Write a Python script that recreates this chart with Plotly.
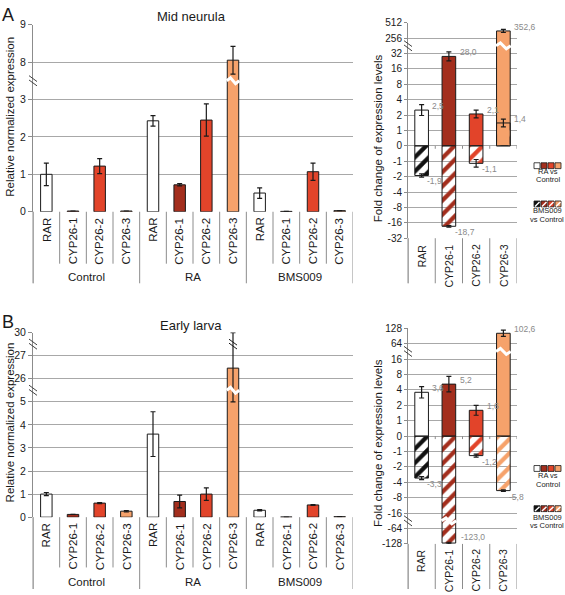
import math
import plotly.graph_objects as go

W, H = 565, 595

# ---------------- data ----------------
groups = ["Control", "RA", "BMS009"]
genes = ["RAR", "CYP26-1", "CYP26-2", "CYP26-3"]
gene_colors = ["#ffffff", "#a32e1d", "#e2442a", "#f6a26b"]
hatch_colors = ["#111111", "#a32e1d", "#e2442a", "#f6a26b"]

# Mid neurula: relative normalized expression
neurula_control = [1.00, 0.02, 1.22, 0.02]
neurula_ra = [2.43, 0.72, 2.45, 8.05]
neurula_bms009 = [0.50, 0.01, 1.07, 0.03]
neurula_control_err = [0.30, 0.0, 0.20, 0.0]
neurula_ra_err = [0.14, 0.03, 0.43, 0.37]
neurula_bms009_err = [0.14, 0.0, 0.23, 0.0]
neurula_yticks = [0, 1, 2, 3, 8, 9]

# Early larva: relative normalized expression
larva_control = [1.00, 0.12, 0.61, 0.26]
larva_ra = [3.60, 0.68, 1.00, 26.46]
larva_bms009 = [0.30, 0.005, 0.53, 0.02]
larva_control_err = [0.07, 0.0, 0.02, 0.03]
larva_ra_err_plus = [0.97, 0.28, 0.27, 3.54]
larva_ra_err_minus = [0.97, 0.28, 0.27, 21.46]
larva_bms009_err = [0.03, 0.0, 0.02, 0.0]
larva_yticks = [0, 1, 2, 3, 4, 5, 26, 27, 30]

# Fold change (errors in log2 units of the plotted scale)
neurula_ra_fold = [2.5, 28.0, 2.1, 352.6]
neurula_bms_fold = [-1.9, -18.7, -1.1, 1.4]
neurula_ra_fold_err = [0.35, 0.29, 0.25, 0.10]
neurula_bms_fold_err = [0.10, 0.05, 0.25, 0.25]
neurula_fold_ticks = [512, 256, 32, 16, 8, 4, 2, 1, 0, -1, -2, -4, -8, -16, -32]

larva_ra_fold = [3.6, 5.2, 1.6, 102.6]
larva_bms_fold = [-3.3, -123.0, -1.2, -5.8]
larva_ra_fold_err = [0.37, 0.50, 0.32, 0.20]
larva_bms_fold_err = [0.10, 0.05, 0.10, 0.05]
larva_fold_ticks = [128, 64, 16, 8, 4, 2, 1, 0, -1, -2, -4, -8, -16, -64, -128]

FONT = "Liberation Sans, Arial, sans-serif"
TXT = "#1a1a1a"
OUT = "#1a1a1a"
GRID = "#a8a8a8"
AXL = "#8c8c8c"


# ---------------- scale transforms (broken axes) ----------------
def t_neurula(v):
    return v if v <= 3 else v - 4


def t_larva(v):
    if v <= 5:
        return v
    if v <= 27:
        return v - 20
    return v - 22


def fold_t(v, lim, shift):
    if v == 0:
        return 0.0
    a = math.log2(abs(v)) + 1
    if abs(v) > lim:
        a -= shift
    return math.copysign(a, v)


def px_x(x):
    return x / W


def px_y(y):
    return 1 - y / H


fig = go.Figure()
shapes = []
annotations = []

tickfont = dict(family=FONT, size=10.5, color=TXT)
rtickfont = dict(family=FONT, size=10, color=TXT)
catfont = dict(family=FONT, size=11.5, color=TXT)
rcatfont = dict(family=FONT, size=10.5, color=TXT)


def break_mark(xpx, t, yref, ppu, color="#444444"):
    for d in (-2.2, 2.2):
        shapes.append(dict(type="line", xref="paper", yref=yref,
                           x0=px_x(xpx - 4), x1=px_x(xpx + 4),
                           y0=t + (3 + d) / ppu, y1=t + (-3 + d) / ppu,
                           line=dict(color=color, width=1)))


def break_mark_data(xref, yref, xc, t, ppx, ppu):
    for d in (-2.0, 2.0):
        shapes.append(dict(type="line", xref=xref, yref=yref,
                           x0=xc - 4 / ppx, x1=xc + 4 / ppx,
                           y0=t + (3 + d) / ppu, y1=t + (-3 + d) / ppu,
                           line=dict(color=OUT, width=1)))


def zigzag(xref, yref, xc, hw, t, amp):
    x0, x1 = xc - hw - 0.02, xc + hw + 0.02
    w = x1 - x0
    pts = [(x0, t), (x0 + 0.3 * w, t + amp), (x0 + 0.7 * w, t - amp), (x1, t)]
    path = "M " + " L ".join(f"{x:.4f},{y:.4f}" for x, y in pts)
    shapes.append(dict(type="path", xref=xref, yref=yref, path=path,
                       line=dict(color="white", width=3), layer="above"))


def gene_labels(xref, ybase, n_groups, font, gap):
    for gi in range(n_groups):
        for k, gname in enumerate(genes):
            annotations.append(dict(x=gi * len(genes) + k, y=px_y(ybase + gap),
                                    xref=xref, yref="paper", text=gname,
                                    showarrow=False, textangle=-90,
                                    xanchor="center", yanchor="top", font=font))


def add_left(ax, series, err_p, err_m, tf, breaks, ppu, ppx):
    xname, yname = "x" + ax, "y" + ax
    xs, ts, ep, em, cols = [], [], [], [], []
    bw = 0.43
    for gi, vals in enumerate(series):
        for k, v in enumerate(vals):
            xi = gi * len(genes) + k
            t = tf(v)
            p, m = err_p[gi][k], err_m[gi][k]
            xs.append(xi)
            ts.append(t)
            ep.append(tf(v + p) - t if p > 0 else None)
            em.append(t - tf(v - m) if m > 0 else None)
            cols.append(gene_colors[k])
            for b in breaks:
                if t > b:
                    zigzag(xname, yname, xi, bw / 2, b, 3 / ppu)
                elif p > 0 and tf(v + p) > b > t:
                    break_mark_data(xname, yname, xi, b, ppx, ppu)
    fig.add_trace(go.Bar(
        x=xs, y=ts, width=bw, xaxis=xname, yaxis=yname,
        marker=dict(color=cols, line=dict(color=OUT, width=1), opacity=1),
        error_y=dict(type="data", array=ep, arrayminus=em, symmetric=False,
                     color=OUT, thickness=1.2, width=2.5),
        showlegend=False, hoverinfo="skip"))


def add_right(ax, ra, bms, ra_err, bms_err, lim, shift, brk, ymin, ppu):
    xname, yname = "x" + ax, "y" + ax
    xs = list(range(len(genes)))
    bw = 0.5
    t_ra = [fold_t(v, lim, shift) for v in ra]
    t_bms = [fold_t(v, lim, shift) for v in bms]
    fig.add_trace(go.Bar(
        x=xs, y=t_ra, width=bw, xaxis=xname, yaxis=yname,
        marker=dict(color=gene_colors, line=dict(color=OUT, width=1), opacity=1),
        error_y=dict(type="data", array=ra_err, color=OUT, thickness=1.2, width=2.5),
        showlegend=False, hoverinfo="skip"))
    fig.add_trace(go.Bar(
        x=xs, y=t_bms, width=bw, xaxis=xname, yaxis=yname,
        marker=dict(color=hatch_colors, line=dict(color=OUT, width=1), opacity=1,
                    pattern=dict(shape="/", fgcolor="white", fgopacity=1,
                                 bgcolor=hatch_colors,
                                 fillmode="replace", size=10, solidity=0.42)),
        error_y=dict(type="data", array=bms_err, color=OUT, thickness=1.2, width=2.5),
        showlegend=False, hoverinfo="skip"))
    for vals, ts in ((ra, t_ra), (bms, t_bms)):
        for i, (v, t) in enumerate(zip(vals, ts)):
            if abs(v) > lim:
                zigzag(xname, yname, i, bw / 2, math.copysign(brk, v), 3 / ppu)
            label = f"{v:.1f}".replace(".", ",")
            if v > 0:
                ys, xs_ = 4, 2
            else:
                ys, xs_ = -6, -3
                if t - 8 / ppu < ymin:
                    ys, xs_ = 6, 3
            annotations.append(dict(
                x=i + bw / 2, y=t, xref=xname, yref=yname, text=label,
                showarrow=False, xanchor="left", yanchor="middle",
                xshift=xs_, yshift=ys,
                font=dict(family=FONT, size=8.5, color="#8a8a8a")))
    # small ticks on the zero line at category boundaries
    for b in range(1, len(genes) + 1):
        shapes.append(dict(type="line", xref=xname, yref=yname,
                           x0=b - 0.5, x1=b - 0.5, y0=0, y1=-3 / ppu,
                           line=dict(color=AXL, width=1)))


# ---------------- panel geometry (pixels) ----------------
LX0, LX1 = 33, 353
RX0, RX1 = 408, 517
A_L_Y = (210, 19)       # y of t=0 and t=5
A_R_Y = (237, 17)       # y of t=-6 and t=8
B_L_Y = (521.7, 333.3)  # t=0 and t=8
B_R_Y = (549, 329)      # t=-7 and t=7

ppu_AL = (A_L_Y[0] - A_L_Y[1]) / 5
ppu_AR = (A_R_Y[0] - A_R_Y[1]) / 14
ppu_BL = (B_L_Y[0] - B_L_Y[1]) / 8
ppu_BR = (B_R_Y[0] - B_R_Y[1]) / 14
ppx_L = (LX1 - LX0) / 12
ppx_R = (RX1 - RX0) / 4

add_left("", [neurula_control, neurula_ra, neurula_bms009],
         [neurula_control_err, neurula_ra_err, neurula_bms009_err],
         [neurula_control_err, neurula_ra_err, neurula_bms009_err],
         t_neurula, [3.5], ppu_AL, ppx_L)
add_right("2", neurula_ra_fold, neurula_bms_fold, neurula_ra_fold_err,
          neurula_bms_fold_err, 32, 2, 6.5, -6, ppu_AR)
add_left("3", [larva_control, larva_ra, larva_bms009],
         [larva_control_err, larva_ra_err_plus, larva_bms009_err],
         [larva_control_err, larva_ra_err_minus, larva_bms009_err],
         t_larva, [5.5, 7.5], ppu_BL, ppx_L)
add_right("4", larva_ra_fold, larva_bms_fold, larva_ra_fold_err,
          larva_bms_fold_err, 16, 1, 5.5, -7, ppu_BR)

gene_labels("x", A_L_Y[0], len(groups), catfont, 4)
gene_labels("x3", B_L_Y[0], len(groups), catfont, 4)
gene_labels("x2", A_R_Y[0], 1, rcatfont, 4)
gene_labels("x4", B_R_Y[0], 1, rcatfont, 3)


def xax(x0, x1, n, anchor):
    return dict(domain=[px_x(x0), px_x(x1)], range=[-0.5, n - 0.5], anchor=anchor,
                showticklabels=False, ticks="", showgrid=False, zeroline=False,
                showline=False, fixedrange=True)


def yax(ybot, ytop, rng, tv, tt, anchor, tlen, font):
    return dict(domain=[px_y(ybot), px_y(ytop)], range=rng, anchor=anchor,
                tickmode="array", tickvals=tv, ticktext=tt, tickfont=font,
                showgrid=True, gridcolor=GRID, gridwidth=1, zeroline=False,
                showline=True, linecolor=AXL, linewidth=1,
                ticks="outside", ticklen=tlen, tickcolor=AXL, fixedrange=True)


fig.update_layout(
    xaxis=xax(LX0, LX1, 12, "y"),
    yaxis=yax(A_L_Y[0], A_L_Y[1], [0, 5], [t_neurula(v) for v in neurula_yticks],
              [str(v) for v in neurula_yticks], "x", 4, tickfont),
    xaxis2=xax(RX0, RX1, 4, "y2"),
    yaxis2=yax(A_R_Y[0], A_R_Y[1], [-6, 8], [fold_t(v, 32, 2) for v in neurula_fold_ticks],
               [str(v) for v in neurula_fold_ticks], "x2", 3, rtickfont),
    xaxis3=xax(LX0, LX1, 12, "y3"),
    yaxis3=yax(B_L_Y[0], B_L_Y[1], [0, 8], [t_larva(v) for v in larva_yticks],
               [str(v) for v in larva_yticks], "x3", 4, tickfont),
    xaxis4=xax(RX0, RX1, 4, "y4"),
    yaxis4=yax(B_R_Y[0], B_R_Y[1], [-7, 7], [fold_t(v, 16, 1) for v in larva_fold_ticks],
               [str(v) for v in larva_fold_ticks], "x4", 3, rtickfont),
)

# axis break marks
break_mark(LX0, 3.5, "y", ppu_AL)
break_mark(RX0, 6.5, "y2", ppu_AR)
break_mark(LX0, 5.5, "y3", ppu_BL)
break_mark(LX0, 7.5, "y3", ppu_BL)
break_mark(RX0, 5.5, "y4", ppu_BR)
break_mark(RX0, -5.5, "y4", ppu_BR)


# category dividers and group labels
def left_dividers(xref, ybase, yinner, youter, ygl):
    n = len(groups) * len(genes)
    for b in range(n + 1):
        outer = b % len(genes) == 0
        shapes.append(dict(type="line", xref=xref, yref="paper",
                           x0=b - 0.5, x1=b - 0.5, y0=px_y(ybase),
                           y1=px_y(youter if outer else yinner),
                           line=dict(color=AXL, width=1)))
    for gi, g in enumerate(groups):
        annotations.append(dict(x=gi * len(genes) + (len(genes) - 1) / 2, y=px_y(ygl),
                                xref=xref, yref="paper", text=g, showarrow=False,
                                xanchor="center", yanchor="middle", font=catfont))


def right_dividers(xref, ybase, yend):
    for b in range(len(genes) + 1):
        shapes.append(dict(type="line", xref=xref, yref="paper",
                           x0=b - 0.5, x1=b - 0.5, y0=px_y(ybase), y1=px_y(yend),
                           line=dict(color=AXL, width=1)))


left_dividers("x", A_L_Y[0], 263, 283, 277)
left_dividers("x3", B_L_Y[0], 573, 595, 588)
right_dividers("x2", A_R_Y[0], 283)
right_dividers("x4", B_R_Y[0], 595)


# legends
def legend_block(x0, ysq, colors, hatched, lines, ylines, xc):
    for k, c in enumerate(colors):
        xa = x0 + k * 7
        shapes.append(dict(type="rect", xref="paper", yref="paper",
                           x0=px_x(xa), x1=px_x(xa + 6), y0=px_y(ysq + 6), y1=px_y(ysq),
                           fillcolor=c, line=dict(color=OUT, width=0.8)))
        if hatched:
            shapes.append(dict(type="line", xref="paper", yref="paper",
                               x0=px_x(xa + 1), x1=px_x(xa + 5.5), y0=px_y(ysq + 5.5),
                               y1=px_y(ysq + 1), line=dict(color="white", width=1.4)))
    for text, yy in zip(lines, ylines):
        annotations.append(dict(x=px_x(xc), y=px_y(yy), xref="paper", yref="paper",
                                text=text, showarrow=False, xanchor="center",
                                yanchor="middle",
                                font=dict(family=FONT, size=7.5, color=TXT)))


legend_block(534, 160, gene_colors, False, ["RA vs", "Control"], [169, 177.5], 548)
legend_block(534, 199, hatch_colors, True, ["BMS009", "vs Control"], [209, 217.5], 547)
legend_block(534, 469, gene_colors, False, ["RA vs", "Control"], [479.5, 488], 548)
legend_block(534, 510, hatch_colors, True, ["BMS009", "vs Control"], [522, 530.5], 547)

# y-axis lines extended through the label area
for xp, y0, y1 in ((LX0, A_L_Y[0], 283), (LX0, B_L_Y[0], 595),
                   (RX0, A_R_Y[0], 283), (RX0, B_R_Y[0], 595)):
    shapes.append(dict(type="line", xref="paper", yref="paper", x0=px_x(xp), x1=px_x(xp),
                       y0=px_y(y0), y1=px_y(y1), line=dict(color=AXL, width=1)))

# titles and labels
texts = [
    ("A", 8, 9, 18, 0),
    ("B", 8, 323, 18, 0),
    ("Mid neurula", 191, 11, 13, 0),
    ("Early larva", 191, 326, 13, 0),
    ("Relative normalized expression", 10, 113, 11.5, -90),
    ("Relative normalized expression", 10, 425, 11.5, -90),
    ("Fold change of expression levels", 378, 135, 11.5, -90),
    ("Fold change of expression levels", 378, 446, 11.5, -90),
]
for text, x, y, size, ang in texts:
    annotations.append(dict(x=px_x(x), y=px_y(y), xref="paper", yref="paper", text=text,
                            showarrow=False, xanchor="center", yanchor="middle",
                            textangle=ang, font=dict(family=FONT, size=size, color=TXT)))

fig.update_layout(
    width=W, height=H, margin=dict(l=0, r=0, t=0, b=0),
    paper_bgcolor="white", plot_bgcolor="white",
    barmode="overlay", showlegend=False,
    font=dict(family=FONT, color=TXT),
    shapes=shapes, annotations=annotations,
)

fig.write_html("out.html", config={"displayModeBar": False},
               post_script="document.body.style.margin='0px';"
                           "document.body.style.overflow='hidden';")
